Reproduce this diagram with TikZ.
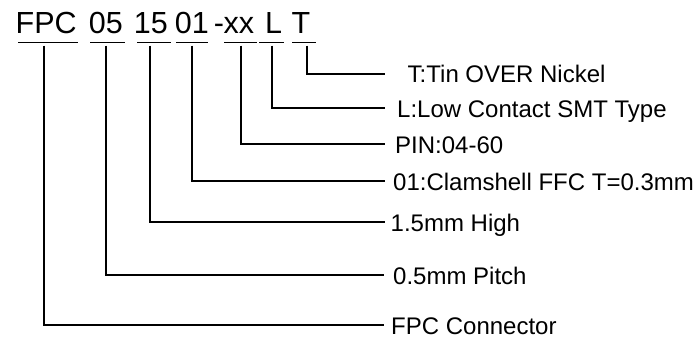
\documentclass[tikz,border=0pt]{standalone}
\usepackage{fontspec}
\setmainfont{Liberation Sans}
\begin{document}
\begin{tikzpicture}[x=1pt,y=-1pt,
  ttl/.style={inner sep=0pt,anchor=base west,font=\fontsize{30.5}{30.5}\selectfont},
  lab/.style={inner sep=0pt,anchor=base west,font=\fontsize{24}{24}\selectfont},
  ln/.style={line width=1.7pt,line cap=butt},
  conn/.style={line width=1.7pt,line cap=butt,line join=miter}]
\useasboundingbox (0,0) rectangle (700,348);
% title tokens
\node[ttl] (tFPC) at (15.5,33) {FPC};
\node[ttl] (t05) at (88.7,33) {05};
\node[ttl] (t15) at (133.7,33) {15};
\node[ttl] (t01) at (174.7,33) {01};
\node[ttl] (tdash) at (213.7,33) {-};
\node[ttl] (txx) at (223.5,33) {xx};
\node[ttl] (tL) at (264.8,33) {L};
\node[ttl] (tT) at (291.3,33) {T};
% underlines
\draw[ln] (18,42.5) coordinate (uFPCa) -- (78,42.5) coordinate (uFPCb);
\draw[ln] (90,42.5) coordinate (u05a) -- (125,42.5) coordinate (u05b);
\draw[ln] (137,42.5) coordinate (u15a) -- (171,42.5) coordinate (u15b);
\draw[ln] (176,42.5) coordinate (u01a) -- (208,42.5) coordinate (u01b);
\draw[ln] (224,42.5) coordinate (uxxa) -- (257,42.5) coordinate (uxxb);
\draw[ln] (259,42.5) coordinate (uLa) -- (284,42.5) coordinate (uLb);
\draw[ln] (292,42.5) coordinate (uTa) -- (316,42.5) coordinate (uTb);
% connector starts
\coordinate (sFPC) at (44,45.5);
\coordinate (s05) at (106,45.5);
\coordinate (s15) at (150,45.5);
\coordinate (s01) at (192,45.5);
\coordinate (sxx) at (241,45.5);
\coordinate (sL) at (272,45.5);
\coordinate (sT) at (307,45.5);
% connector ends
\coordinate (eT) at (385,74);
\coordinate (eL) at (385,108);
\coordinate (exx) at (385,144);
\coordinate (e01) at (385,181);
\coordinate (e15) at (385,222);
\coordinate (e05) at (384,275);
\coordinate (eFPC) at (384,325);
% labels
\node[lab] (lT) at (407.5,82.5) {T:Tin OVER Nickel};
\node[lab] (lL) at (397,117) {L:Low Contact SMT Type};
\node[lab] (lxx) at (395,153) {PIN:04-60};
\node[lab] (l01) at (393,190.5) {01:Clamshell FFC T=0.3mm};
\node[lab] (l15) at (390.5,231) {1.5mm High};
\node[lab] (l05) at (393,284) {0.5mm Pitch};
\node[lab] (lFPC) at (391,334) {FPC Connector};
% connectors
\draw[conn] (sT) |- (eT);
\draw[conn] (sL) |- (eL);
\draw[conn] (sxx) |- (exx);
\draw[conn] (s01) |- (e01);
\draw[conn] (s15) |- (e15);
\draw[conn] (s05) |- (e05);
\draw[conn] (sFPC) |- (eFPC);
\end{tikzpicture}
\end{document}
